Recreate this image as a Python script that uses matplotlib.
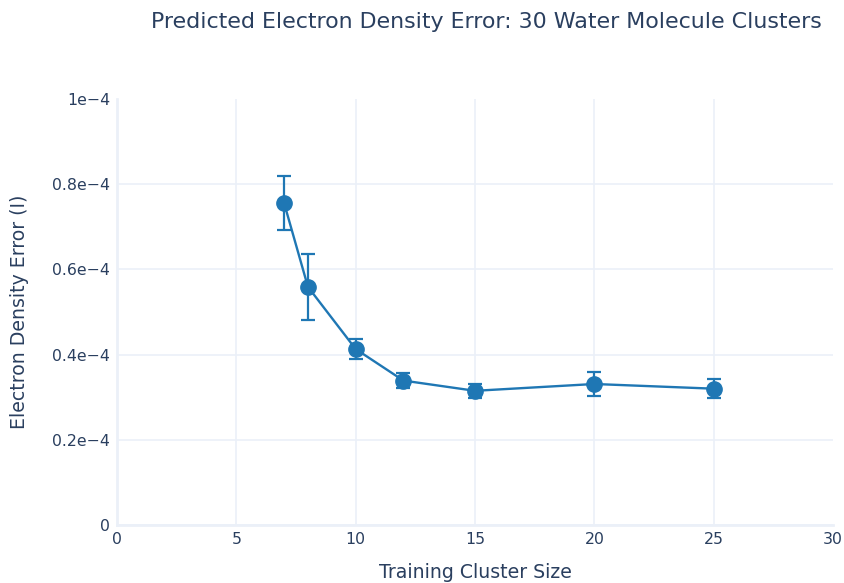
import matplotlib
matplotlib.use("Agg")
import matplotlib.pyplot as plt

cluster_size = [7, 8, 10, 12, 15, 20, 25]
density_error = [7.56e-5, 5.59e-5, 4.13e-5, 3.39e-5, 3.15e-5, 3.31e-5, 3.20e-5]
error_bar = [0.64e-5, 0.77e-5, 0.24e-5, 0.18e-5, 0.16e-5, 0.28e-5, 0.23e-5]

yticks = [0, 0.2e-4, 0.4e-4, 0.6e-4, 0.8e-4, 1e-4]
ytick_labels = ["0", "0.2e\u22124", "0.4e\u22124", "0.6e\u22124", "0.8e\u22124", "1e\u22124"]
xticks = [0, 5, 10, 15, 20, 25, 30]
xtick_labels = ["0", "5", "10", "15", "20", "25", "30"]

title = "Predicted Electron Density Error: 30 Water Molecule Clusters"
xlabel = "Training Cluster Size"
ylabel = "Electron Density Error (I)"

text_color = "#2a3f5f"
grid_color = "#ebf0f8"
line_color = "#1f77b4"

plt.rcParams["font.family"] = ["DejaVu Sans"]

fig = plt.figure(figsize=(8.44, 5.83), dpi=100)
ax = fig.add_axes([117/844, 1-525/583, (833-117)/844, (525-99)/583])

ax.errorbar(cluster_size, density_error, yerr=error_bar, color=line_color,
            linewidth=1.7, marker="o", markersize=11, elinewidth=1.6,
            capsize=4.8, capthick=1.6, zorder=3)

ax.set_xlim(0, 30)
ax.set_ylim(0, 1e-4)
ax.set_xticks(xticks)
ax.set_xticklabels(xtick_labels)
ax.set_yticks(yticks)
ax.set_yticklabels(ytick_labels)
ax.grid(True, color=grid_color, linewidth=1.2, zorder=0)
ax.get_xgridlines()[-1].set_visible(False)
ax.get_ygridlines()[-1].set_visible(False)
ax.set_axisbelow(True)
for s in ["top", "right"]:
    ax.spines[s].set_visible(False)
for s in ["left", "bottom"]:
    ax.spines[s].set_color(grid_color)
    ax.spines[s].set_linewidth(2)
ax.tick_params(length=0, labelsize=11.3, labelcolor=text_color, pad=5)

fig.text(475/844, 1-572/583, xlabel, fontsize=13.6, color=text_color,
         ha="center", va="center")
fig.text(20/844, 1-312/583, ylabel, fontsize=13.6, color=text_color,
         ha="center", va="center", rotation=90)
fig.text(486/844, 1-22/583, title, fontsize=15.9, color=text_color,
         ha="center", va="center")

fig.savefig("out.png", dpi=100, facecolor="white")
